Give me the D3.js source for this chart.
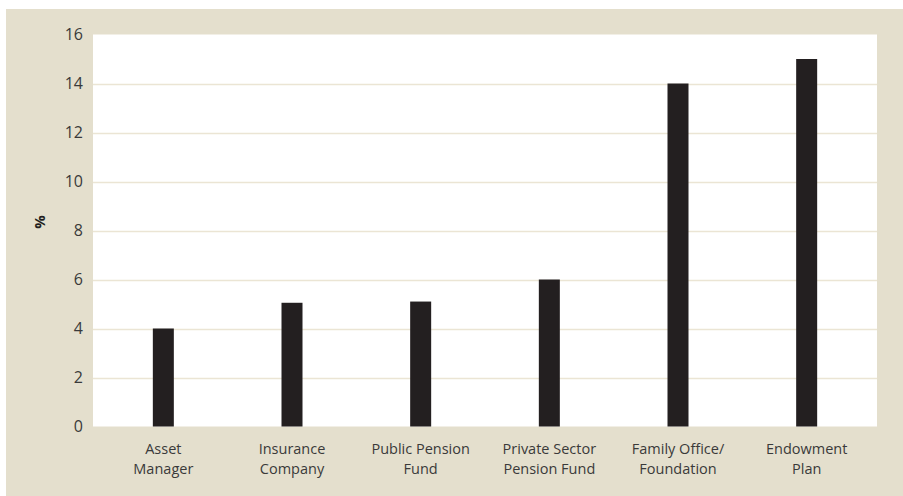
<!DOCTYPE html>
<html>
<head>
<meta charset="utf-8">
<script src="https://cdn.jsdelivr.net/npm/d3@7"></script>
<style>
  html, body { margin: 0; padding: 0; background: #ffffff; }
  svg { display: block; }
</style>
</head>
<body>
<svg id="chart" width="903" height="496"></svg>
<script>
// Investor types and their share (%)
const categories = [
  ["Asset", "Manager"],
  ["Insurance", "Company"],
  ["Public Pension", "Fund"],
  ["Private Sector", "Pension Fund"],
  ["Family Office/", "Foundation"],
  ["Endowment", "Plan"]
];
const values = [4, 5.05, 5.1, 6, 14, 15];
const yTicks = [0, 2, 4, 6, 8, 10, 12, 14, 16];
const yLabel = "%";

const svg = d3.select("#chart");
const W = 903, H = 496;
const panel = { x: 6, y: 9 };
const plot = { left: 93, right: 877, top: 34.5, bottom: 426.5 };
const font = "'Open Sans', sans-serif";
const textColor = "#3a3a3a";

// beige frame
svg.append("rect")
  .attr("x", panel.x).attr("y", panel.y)
  .attr("width", W - panel.x).attr("height", H - panel.y)
  .attr("fill", "#e4dfcd");

// white plot area
svg.append("rect")
  .attr("x", plot.left).attr("y", plot.top)
  .attr("width", plot.right - plot.left).attr("height", plot.bottom - plot.top)
  .attr("fill", "#ffffff");

const y = d3.scaleLinear().domain([0, 16]).range([plot.bottom, plot.top]);
const idx = categories.map((d, i) => i);
const x = d3.scaleBand().domain(idx).range([99, 871]).paddingInner(0).paddingOuter(0);
const barW = 21;

// gridlines
svg.append("g")
  .selectAll("line")
  .data(yTicks.filter(t => t > 0 && t < 16))
  .join("line")
  .attr("x1", plot.left).attr("x2", plot.right)
  .attr("y1", d => Math.round(y(d)) + 0.5).attr("y2", d => Math.round(y(d)) + 0.5)
  .attr("stroke", "#ebe5d4").attr("stroke-width", 1.5);

// bars
svg.append("g")
  .selectAll("rect")
  .data(values)
  .join("rect")
  .attr("x", (d, i) => x(i) + x.bandwidth() / 2 - barW / 2)
  .attr("width", barW)
  .attr("y", d => y(d))
  .attr("height", d => y(0) - y(d))
  .attr("fill", "#231f20");

// y axis labels
const yAxis = d3.axisLeft(y).tickValues(yTicks).tickSize(0).tickPadding(10);
const yg = svg.append("g").attr("transform", `translate(${plot.left},0)`).call(yAxis);
yg.select(".domain").remove();
yg.selectAll("text")
  .attr("font-family", font).attr("font-size", 16)
  .attr("fill", textColor);

// x axis labels: two stacked lines per category
const xAxis = d3.axisBottom(x).tickSize(0).tickFormat(() => "");
const xg = svg.append("g").attr("transform", `translate(0,${plot.bottom})`).call(xAxis);
xg.select(".domain").remove();
xg.selectAll(".tick text").remove();
xg.selectAll(".tick")
  .selectAll("text.cat")
  .data(i => categories[i])
  .join("text")
  .attr("class", "cat")
  .attr("text-anchor", "middle")
  .attr("font-family", font).attr("font-size", 14.5)
  .attr("fill", textColor)
  .attr("x", 0)
  .attr("y", (d, j) => 27.5 + j * 20)
  .text(d => d);

// y axis title
svg.append("text")
  .attr("transform", `translate(45,222) rotate(-90)`)
  .attr("text-anchor", "middle")
  .attr("font-family", font).attr("font-size", 15).attr("font-weight", "bold")
  .attr("fill", "#231f20")
  .text(yLabel);
</script>
</body>
</html>
